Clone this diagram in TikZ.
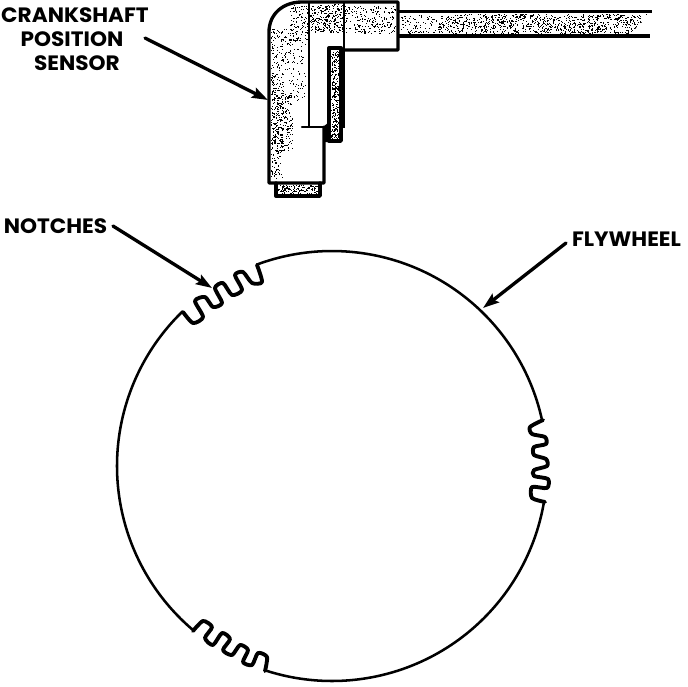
\documentclass[tikz,border=0pt]{standalone}
\usepackage{fontspec}
\newfontfamily\labfont{Poppins}
\usetikzlibrary{arrows.meta}
\tikzset{
  labeltext/.style={inner sep=0pt,font=\labfont\bfseries\fontsize{15.6pt}{18pt}\selectfont,text=black},
  leader/.style={line width=2.5pt,line cap=round,-{Stealth[length=12pt,width=8pt,inset=2pt]}},
  rim/.style={line width=1.9pt,line cap=round,line join=round},
  notch/.style={line width=2.9pt,line cap=round,line join=round},
  heavy/.style={line width=2.5pt,line cap=round,line join=round},
  thin part/.style={line width=1.6pt,line cap=round}
}
% #1 x0, #2 x1, #3 y0, #4 y1, #5 count, #6 bias exponent towards x0
\newcommand{\stipdots}[6]{%
  \foreach \i in {1,...,#5}{%
    \pgfmathsetmacro{\dx}{#1+(#2-#1)*pow(rnd,#6)}%
    \pgfmathsetmacro{\dy}{#3+(#4-#3)*rnd}%
    \fill (\dx,\dy) rectangle ++(1.1,1.1);%
  }%
}
\begin{document}
\begin{tikzpicture}[x=0.75pt,y=-0.75pt]
\useasboundingbox (0,0) rectangle (688,686);
\pgfmathsetseed{7}
% ---- stipple
\begin{scope}
  \clip (271,183) -- (271,32) .. controls (271,15) and (285,4) .. (302,4) -- (396,4) -- (396,48) -- (341,48) -- (329,48) -- (329,127) -- (271,127) -- cycle
        (271,127) rectangle (322,181);
  \stipdots{271}{306}{28}{100}{260}{1.4}
  \stipdots{271}{292}{95}{150}{270}{1.2}
  \stipdots{271}{282}{148}{178}{50}{1.5}
  \stipdots{290}{309}{4}{40}{100}{1}
  \stipdots{310}{345}{4}{32}{260}{1}
  \stipdots{345}{396}{6}{33}{190}{1}
\end{scope}
\stipdots{331}{339}{50}{139}{260}{1}
\stipdots{276}{318}{185}{195}{140}{1}
\begin{scope}
  \clip (401,14) -- (650,14) -- (630,34) -- (401,34) -- cycle;
  \stipdots{401}{440}{15}{33}{80}{1}
  \stipdots{440}{650}{14}{33}{950}{1}
\end{scope}
% ---- sensor
\draw[heavy] (324,127) -- (324,183) -- (269,183) -- (269,32)
  .. controls (269,14) and (283,2) .. (302,2) -- (398,2) -- (398,50) -- (341,50);
\draw[heavy] (329,141) rectangle (341,48);
\draw[heavy] (276,183) -- (276,196) -- (320,196) -- (320,183);
\fill (323,127) -- (329,122) -- (329,142) -- (324,142) -- cycle;
\draw[thin part] (302,127) -- (329,127);
\draw[line width=1.9pt] (309,2) -- (309,127);
\draw[line width=1.9pt] (344,2) -- (344,127) -- (340,127);
\draw[line width=2.8pt] (398,11.5) -- (652,11.5);
\draw[line width=3pt] (398,36) -- (650,36);
% ---- flywheel rim
\draw[rim] (332,466) ++(-12.3:215) arc[start angle=-12.3,end angle=-110.5,radius=215];
\draw[rim] (332,466) ++(225.9:215) arc[start angle=225.9,end angle=130.1,radius=215];
\draw[rim] (332,466) ++(9.6:215) arc[start angle=9.6,end angle=108.1,radius=215];
% ---- notches
\draw[notch] plot[smooth,tension=.45] coordinates {(183,312)(193,323)(203,317)(195,301)(205,297)(213,307)(222,303)(215,288)(223,283)(232,295)(242,290)(235,275)(243,272)(252,283)(262,282)(257,265)};
\draw[notch] plot[smooth,tension=.45] coordinates {(543,420)(530,427)(532,434)(545,437)(546,444)(534,447)(534,455)(546,459)(547,466)(534,470)(534,476)(548,479)(547,488)(532,487)(532,498)(545,502)};
\draw[notch] plot[smooth,tension=.45] coordinates {(193,631)(203,621)(212,627)(205,638)(213,645)(222,633)(230,639)(223,650)(232,655)(240,645)(248,650)(243,662)(252,665)(258,653)(267,657)(265,671)};
% ---- labels
\node[labeltext,anchor=center,xscale=1.04] (crank) at (75,15) {CRANKSHAFT};
\node[labeltext,anchor=center,xscale=1.04] (pos) at (72,39) {POSITION};
\node[labeltext,anchor=center,xscale=1.04] (sens) at (77,63) {SENSOR};
\node[labeltext,anchor=center,xscale=1.04] (notches) at (55.5,226.5) {NOTCHES};
\node[labeltext,anchor=center,xscale=1.04] (fly) at (626.5,239.5) {FLYWHEEL};
% ---- leaders
\coordinate (crankfrom) at (145,38);
\coordinate (cranktip) at (268,100);
\coordinate (notchfrom) at (113,226);
\coordinate (notchtip) at (212,288);
\coordinate (flyfrom) at (566,243);
\coordinate (flytip) at (483,308);
\draw[leader] (crankfrom) -- (cranktip);
\draw[leader] (notchfrom) -- (notchtip);
\draw[leader] (flyfrom) -- (flytip);
\end{tikzpicture}
\end{document}
